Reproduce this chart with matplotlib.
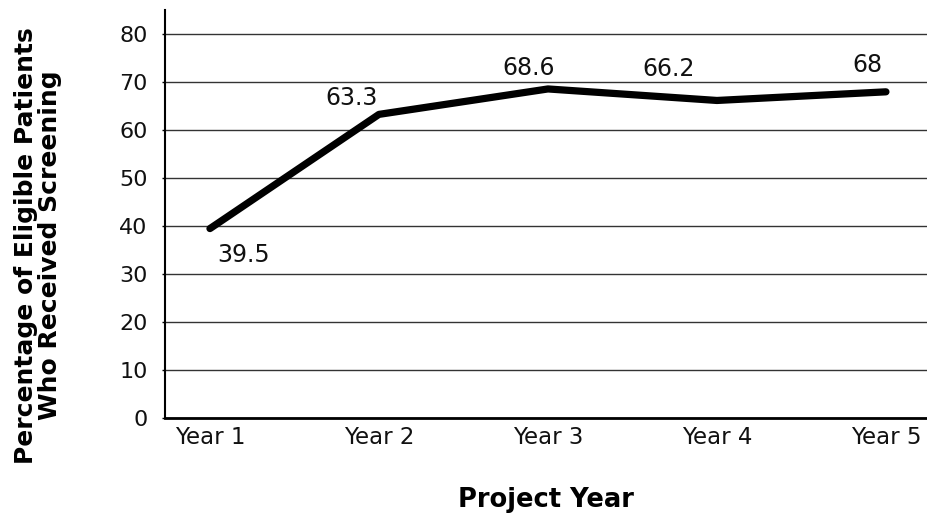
import matplotlib
matplotlib.use("Agg")
import matplotlib.pyplot as plt

# Screening rates by project year
years = ["Year 1", "Year 2", "Year 3", "Year 4", "Year 5"]
screened_pct = [39.5, 63.3, 68.6, 66.2, 68]
y_ticks = [0, 10, 20, 30, 40, 50, 60, 70, 80]

plt.rcParams["font.family"] = ["DejaVu Sans"]

fig = plt.figure(figsize=(9.27, 5.13), dpi=100)
ax = fig.add_axes([0.178, 0.185, 0.822, 0.795])

x = list(range(1, len(years) + 1))
ax.plot(x, screened_pct, color="black", lw=5.2, solid_capstyle="round",
        solid_joinstyle="round", zorder=3)

# value labels, each nudged off the line
offsets = [(24, -19), (-20, 12), (-14, 15), (-35, 23), (-13, 19)]
for xi, v, off in zip(x, screened_pct, offsets):
    ax.annotate(f"{v:g}", (xi, v), xytext=off, textcoords="offset points",
                ha="center", va="center", fontsize=17, color="#111111")

ax.set_xlim(0.734, 5.243)
ax.set_ylim(0, 85)
ax.set_yticks(y_ticks)
ax.set_xticks(x)
ax.set_xticklabels(years)
ax.yaxis.grid(True, color="#333333", lw=1.0)
ax.set_axisbelow(True)

for side in ("top", "right"):
    ax.spines[side].set_visible(False)
ax.spines["left"].set_linewidth(1.5)
ax.spines["bottom"].set_linewidth(2.0)
ax.tick_params(axis="y", length=2.5, width=1.0, pad=10, labelsize=16,
               labelcolor="#111111")
ax.tick_params(axis="x", length=0, pad=6, labelsize=16.5, labelcolor="#111111")

ax.set_xlabel("Project Year", fontsize=18.5, fontweight="bold", labelpad=27)
ax.set_ylabel("Percentage of Eligible Patients\nWho Received Screening",
              fontsize=18, fontweight="bold", linespacing=1.0)
ax.yaxis.set_label_coords(-0.167, 0.424)
ax.yaxis.label.set_horizontalalignment("center")
ax.yaxis.label.set_verticalalignment("center")

fig.savefig("out.png", dpi=100, facecolor="white")
